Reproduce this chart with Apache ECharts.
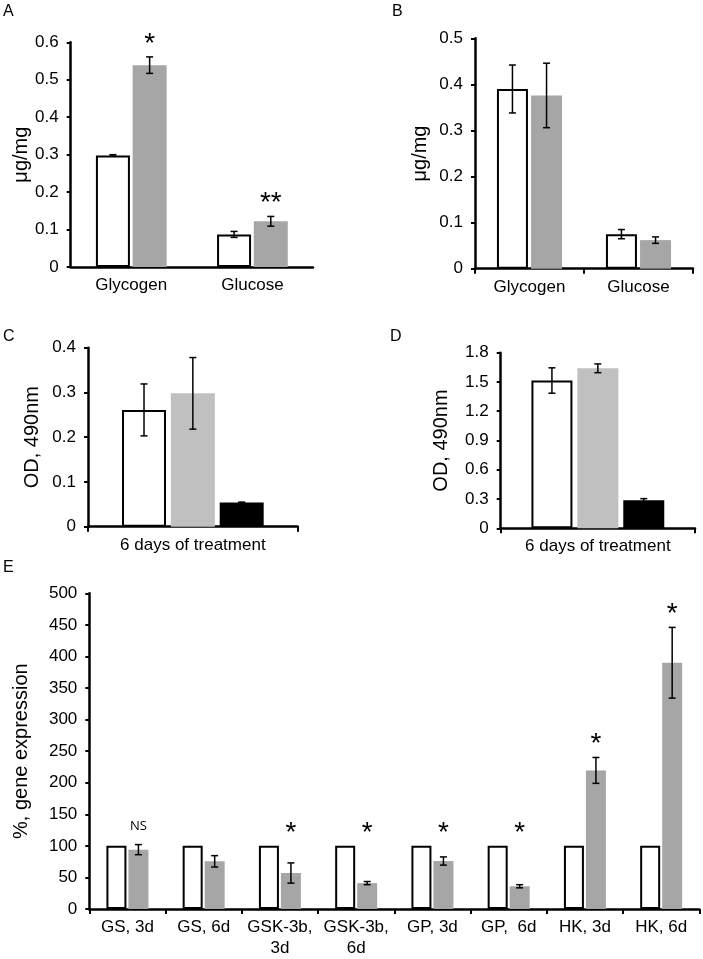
<!DOCTYPE html>
<html><head><meta charset="utf-8">
<script src="https://cdn.jsdelivr.net/npm/echarts@6/dist/echarts.min.js"></script>
<style>html,body{margin:0;padding:0;background:#fff}#c{width:703px;height:959px}</style>
</head><body><div id="c"></div>
<script>
// ---------- data ----------
const abCategories = ['Glycogen', 'Glucose'];
const aYTicks = [0, 0.1, 0.2, 0.3, 0.4, 0.5, 0.6];
const aControl = [0.298, 0.087];
const aControlErr = [0.002, 0.008];
const aTreated = [0.539, 0.122];
const aTreatedErr = [0.022, 0.013];
const aMarks = ['*', '**'];

const bYTicks = [0, 0.1, 0.2, 0.3, 0.4, 0.5];
const bControl = [0.390, 0.075];
const bControlErr = [0.052, 0.010];
const bTreated = [0.376, 0.062];
const bTreatedErr = [0.070, 0.007];

const cdCategories = ['6 days of treatment'];
const cYTicks = [0, 0.1, 0.2, 0.3, 0.4];
const cWhite = [0.261];
const cWhiteErr = [0.058];
const cGrey = [0.298];
const cGreyErr = [0.080];
const cBlack = [0.054];
const cBlackErr = [0.001];

const dYTicks = [0, 0.3, 0.6, 0.9, 1.2, 1.5, 1.8];
const dWhite = [1.515];
const dWhiteErr = [0.13];
const dGrey = [1.64];
const dGreyErr = [0.045];
const dBlack = [0.287];
const dBlackErr = [0.017];

const eCategories = ['GS, 3d', 'GS, 6d', 'GSK-3b,\n3d', 'GSK-3b,\n6d', 'GP, 3d', 'GP,  6d', 'HK, 3d', 'HK, 6d'];
const eYTicks = [0, 50, 100, 150, 200, 250, 300, 350, 400, 450, 500];
const eControl = [100, 100, 100, 100, 100, 100, 100, 100];
const eTreated = [94, 75.5, 57, 41, 76, 36, 219.5, 390];
const eTreatedErr = [8, 9, 16, 2.5, 6.5, 2.5, 20.5, 56];
const eMarks = ['NS', '', '*', '*', '*', '*', '*', '*'];

// ---------- helpers ----------
const FONT = "'Liberation Sans', Arial, sans-serif";
const GREY = '#a6a6a6';
const LIGHT = '#c0c0c0';

function xAxis(gi, cats, showTicks) {
  return {
    type: 'category', gridIndex: gi, data: cats,
    axisLine: { lineStyle: { color: '#000', width: 2.5 } },
    axisTick: { show: showTicks, length: 5, lineStyle: { color: '#000', width: 2 } },
    axisLabel: { color: '#000', fontFamily: FONT, fontSize: 17, margin: 8, lineHeight: 21, interval: 0 }
  };
}
function yAxis(gi, ticks, name, gap) {
  return {
    type: 'value', gridIndex: gi,
    min: ticks[0], max: ticks[ticks.length - 1], interval: ticks[1] - ticks[0],
    name: name, nameLocation: 'middle', nameGap: gap,
    nameTextStyle: { color: '#000', fontFamily: FONT, fontSize: 20 },
    axisLine: { show: true, lineStyle: { color: '#000', width: 2.5 } },
    axisTick: { show: true, length: 4, lineStyle: { color: '#000', width: 2 } },
    splitLine: { show: false },
    axisLabel: { color: '#000', fontFamily: FONT, fontSize: 17, margin: 12 }
  };
}
function bar(gi, data, color, w, gap, bordered) {
  return {
    type: 'bar', xAxisIndex: gi, yAxisIndex: gi, data: data, z: 2,
    barWidth: w, barGap: gap, silent: true,
    itemStyle: bordered ? { color: '#fff', borderColor: '#000', borderWidth: 2 } : { color: color }
  };
}
function errSeries(gi, vals, errs, idx, n, w, gapFrac, marks, floorVals) {
  return {
    type: 'custom', xAxisIndex: gi, yAxisIndex: gi, silent: true, z: 5,
    data: vals.map((v, i) => [i, v, errs[i]]),
    renderItem: function (params, api) {
      const i = api.value(0), v = api.value(1), e = api.value(2);
      const off = (idx - (n - 1) / 2) * w * (1 + gapFrac);
      const hi = api.coord([i, v + e]);
      const lo = api.coord([i, v - e]);
      const x = hi[0] + off;
      const cap = 3.5;
      const st = { stroke: '#000', lineWidth: 1.5 };
      const children = [
        { type: 'line', shape: { x1: x, y1: hi[1], x2: x, y2: lo[1] }, style: st },
        { type: 'line', shape: { x1: x - cap, y1: hi[1], x2: x + cap, y2: hi[1] }, style: st },
        { type: 'line', shape: { x1: x - cap, y1: lo[1], x2: x + cap, y2: lo[1] }, style: st }
      ];
      const m = marks ? marks[i] : '';
      if (m) {
        let top = hi[1];
        if (floorVals) top = Math.min(top, api.coord([i, floorVals[i]])[1]);
        const isNS = m === 'NS';
        children.push({
          type: 'text',
          style: {
            text: m, x: x, y: top - (isNS ? 18 : 13),
            align: 'center', verticalAlign: 'middle',
            fontFamily: isNS ? "'Open Sans', sans-serif" : FONT,
            fontSize: isNS ? 13 : 28, fill: '#000'
          }
        });
      }
      return { type: 'group', children: children };
    }
  };
}
function letter(t, x, y) {
  return { type: 'text', left: x, top: y, style: { text: t, fontFamily: FONT, fontSize: 16, fill: '#000' } };
}

// ---------- option ----------
const option = {
  animation: false,
  backgroundColor: '#fff',
  grid: [
    { left: 70.7, top: 42.3, width: 242.3, height: 224.7 },
    { left: 475, top: 38.3, width: 218, height: 230.4 },
    { left: 88, top: 347.7, width: 209.7, height: 179 },
    { left: 500.7, top: 352.7, width: 194.3, height: 175.6 },
    { left: 89.3, top: 593.3, width: 610, height: 316 }
  ],
  xAxis: [
    xAxis(0, abCategories, false),
    xAxis(1, abCategories, true),
    xAxis(2, cdCategories, true),
    xAxis(3, cdCategories, true),
    xAxis(4, eCategories, true)
  ],
  yAxis: [
    yAxis(0, aYTicks, 'μg/mg', 38),
    yAxis(1, bYTicks, 'μg/mg', 45),
    yAxis(2, cYTicks, 'OD, 490nm', 46),
    yAxis(3, dYTicks, 'OD, 490nm', 49),
    yAxis(4, eYTicks, '%, gene expression', 58)
  ],
  graphic: [
    letter('A', 3, 4),
    letter('B', 392, 4),
    letter('C', 3, 329),
    letter('D', 390, 329),
    letter('E', 3, 560)
  ],
  series: [
    bar(0, aControl, '#fff', 34, '8%', true),
    bar(0, aTreated, GREY, 34, '8%', false),
    errSeries(0, aControl, aControlErr, 0, 2, 34, 0.08, null, null),
    errSeries(0, aTreated, aTreatedErr, 1, 2, 34, 0.08, aMarks, aControl),

    bar(1, bControl, '#fff', 31, '10%', true),
    bar(1, bTreated, GREY, 31, '10%', false),
    errSeries(1, bControl, bControlErr, 0, 2, 31, 0.10, null, null),
    errSeries(1, bTreated, bTreatedErr, 1, 2, 31, 0.10, null, null),

    bar(2, cWhite, '#fff', 44, '11%', true),
    bar(2, cGrey, LIGHT, 44, '11%', false),
    bar(2, cBlack, '#000', 44, '11%', false),
    errSeries(2, cWhite, cWhiteErr, 0, 3, 44, 0.11, null, null),
    errSeries(2, cGrey, cGreyErr, 1, 3, 44, 0.11, null, null),
    errSeries(2, cBlack, cBlackErr, 2, 3, 44, 0.11, null, null),

    bar(3, dWhite, '#fff', 41, '12%', true),
    bar(3, dGrey, LIGHT, 41, '12%', false),
    bar(3, dBlack, '#000', 41, '12%', false),
    errSeries(3, dWhite, dWhiteErr, 0, 3, 41, 0.12, null, null),
    errSeries(3, dGrey, dGreyErr, 1, 3, 41, 0.12, null, null),
    errSeries(3, dBlack, dBlackErr, 2, 3, 41, 0.12, null, null),

    bar(4, eControl, '#fff', 20, '10%', true),
    bar(4, eTreated, GREY, 20, '10%', false),
    errSeries(4, eTreated, eTreatedErr, 1, 2, 20, 0.10, eMarks, eControl)
  ]
};
const chart = echarts.init(document.getElementById('c'), null, { renderer: 'canvas' });
chart.setOption(option);
</script>
</body></html>
